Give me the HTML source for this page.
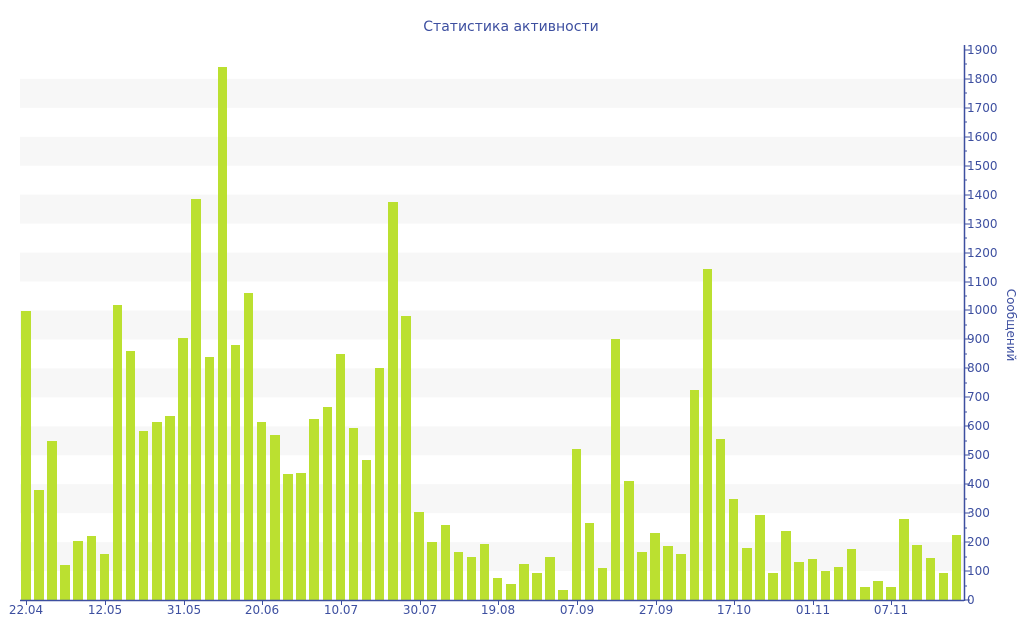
<!DOCTYPE html>
<html><head><meta charset="utf-8"><style>
body{margin:0;width:1024px;height:640px;background:#fff;position:relative;overflow:hidden;font-family:"DejaVu Sans",sans-serif}
#bars{position:absolute;left:21px;top:0;height:600px;display:flex;align-items:flex-end}
#bars div{width:9.5px;margin-right:3.61px;background:#bbe030}
</style></head><body>
<svg width="1024" height="640" style="position:absolute;left:0;top:0">
<g fill="#f7f7f7">
<rect x="20" y="542.1" width="944" height="28.95"/>
<rect x="20" y="484.2" width="944" height="28.95"/>
<rect x="20" y="426.3" width="944" height="28.95"/>
<rect x="20" y="368.4" width="944" height="28.95"/>
<rect x="20" y="310.5" width="944" height="28.95"/>
<rect x="20" y="252.6" width="944" height="28.95"/>
<rect x="20" y="194.7" width="944" height="28.95"/>
<rect x="20" y="136.8" width="944" height="28.95"/>
<rect x="20" y="78.9" width="944" height="28.95"/>
</g>
</svg>
<div id="bars">
<div style="height:calc(1000px*0.2895)"></div><div style="height:calc(380px*0.2895)"></div><div style="height:calc(550px*0.2895)"></div><div style="height:calc(120px*0.2895)"></div><div style="height:calc(205px*0.2895)"></div><div style="height:calc(220px*0.2895)"></div><div style="height:calc(160px*0.2895)"></div><div style="height:calc(1020px*0.2895)"></div><div style="height:calc(860px*0.2895)"></div><div style="height:calc(585px*0.2895)"></div><div style="height:calc(615px*0.2895)"></div><div style="height:calc(635px*0.2895)"></div><div style="height:calc(905px*0.2895)"></div><div style="height:calc(1385px*0.2895)"></div><div style="height:calc(840px*0.2895)"></div><div style="height:calc(1840px*0.2895)"></div><div style="height:calc(880px*0.2895)"></div><div style="height:calc(1060px*0.2895)"></div><div style="height:calc(615px*0.2895)"></div><div style="height:calc(570px*0.2895)"></div><div style="height:calc(435px*0.2895)"></div><div style="height:calc(440px*0.2895)"></div><div style="height:calc(625px*0.2895)"></div><div style="height:calc(665px*0.2895)"></div><div style="height:calc(850px*0.2895)"></div><div style="height:calc(595px*0.2895)"></div><div style="height:calc(485px*0.2895)"></div><div style="height:calc(800px*0.2895)"></div><div style="height:calc(1375px*0.2895)"></div><div style="height:calc(980px*0.2895)"></div><div style="height:calc(305px*0.2895)"></div><div style="height:calc(200px*0.2895)"></div><div style="height:calc(260px*0.2895)"></div><div style="height:calc(165px*0.2895)"></div><div style="height:calc(150px*0.2895)"></div><div style="height:calc(195px*0.2895)"></div><div style="height:calc(75px*0.2895)"></div><div style="height:calc(55px*0.2895)"></div><div style="height:calc(125px*0.2895)"></div><div style="height:calc(95px*0.2895)"></div><div style="height:calc(150px*0.2895)"></div><div style="height:calc(35px*0.2895)"></div><div style="height:calc(520px*0.2895)"></div><div style="height:calc(265px*0.2895)"></div><div style="height:calc(110px*0.2895)"></div><div style="height:calc(900px*0.2895)"></div><div style="height:calc(410px*0.2895)"></div><div style="height:calc(165px*0.2895)"></div><div style="height:calc(230px*0.2895)"></div><div style="height:calc(185px*0.2895)"></div><div style="height:calc(160px*0.2895)"></div><div style="height:calc(725px*0.2895)"></div><div style="height:calc(1145px*0.2895)"></div><div style="height:calc(555px*0.2895)"></div><div style="height:calc(350px*0.2895)"></div><div style="height:calc(180px*0.2895)"></div><div style="height:calc(295px*0.2895)"></div><div style="height:calc(95px*0.2895)"></div><div style="height:calc(240px*0.2895)"></div><div style="height:calc(130px*0.2895)"></div><div style="height:calc(140px*0.2895)"></div><div style="height:calc(100px*0.2895)"></div><div style="height:calc(115px*0.2895)"></div><div style="height:calc(175px*0.2895)"></div><div style="height:calc(45px*0.2895)"></div><div style="height:calc(65px*0.2895)"></div><div style="height:calc(45px*0.2895)"></div><div style="height:calc(280px*0.2895)"></div><div style="height:calc(190px*0.2895)"></div><div style="height:calc(145px*0.2895)"></div><div style="height:calc(95px*0.2895)"></div><div style="height:calc(225px*0.2895)"></div>
</div>
<svg width="1024" height="640" style="position:absolute;left:0;top:0" font-family="DejaVu Sans, sans-serif">
<text x="511" y="31" text-anchor="middle" font-size="14" fill="#3d4fa0">Статистика активности</text>
<g stroke="#3d4fa0" stroke-width="1.5">
<line x1="20" y1="600.5" x2="964" y2="600.5"/>
<line x1="964.5" y1="45" x2="964.5" y2="601"/>
</g>
<g stroke="#3d4fa0" stroke-width="1">
<path d="M26.5 600v5M105.5 600v5M184.5 600v5M262.5 600v5M341.5 600v5M420.5 600v5M498.5 600v5M577.5 600v5M656.5 600v5M734.5 600v5M813.5 600v5M891.5 600v5"/>
<path d="M964 600h6M964 571h6M964 542h6M964 513h6M964 484h6M964 455h6M964 426h6M964 397h6M964 368h6M964 339h6M964 310h6M964 282h6M964 253h6M964 224h6M964 195h6M964 166h6M964 137h6M964 108h6M964 79h6M964 50h6"/>
<path d="M964 586h3M964 557h3M964 528h3M964 499h3M964 470h3M964 441h3M964 412h3M964 383h3M964 354h3M964 325h3M964 296h3M964 267h3M964 238h3M964 209h3M964 180h3M964 151h3M964 122h3M964 93h3M964 64h3"/>
</g>
<g font-size="12" fill="#3d4fa0" text-anchor="middle">
<text x="26" y="614">22.04</text><text x="105" y="614">12.05</text><text x="184" y="614">31.05</text><text x="262" y="614">20.06</text><text x="341" y="614">10.07</text><text x="420" y="614">30.07</text><text x="498" y="614">19.08</text><text x="577" y="614">07.09</text><text x="656" y="614">27.09</text><text x="734" y="614">17.10</text><text x="813" y="614">01.11</text><text x="891" y="614">07.11</text>
</g>
<g font-size="12" fill="#3d4fa0">
<text x="967" y="604">0</text><text x="967" y="575">100</text><text x="967" y="546">200</text><text x="967" y="517">300</text><text x="967" y="488">400</text><text x="967" y="459">500</text><text x="967" y="430">600</text><text x="967" y="401">700</text><text x="967" y="372">800</text><text x="967" y="343">900</text><text x="967" y="314">1000</text><text x="967" y="286">1100</text><text x="967" y="257">1200</text><text x="967" y="228">1300</text><text x="967" y="199">1400</text><text x="967" y="170">1500</text><text x="967" y="141">1600</text><text x="967" y="112">1700</text><text x="967" y="83">1800</text><text x="967" y="54">1900</text>
</g>
<text transform="translate(1007,325) rotate(90)" text-anchor="middle" font-size="12" fill="#3d4fa0">Сообщений</text>
</svg>
</body></html>
